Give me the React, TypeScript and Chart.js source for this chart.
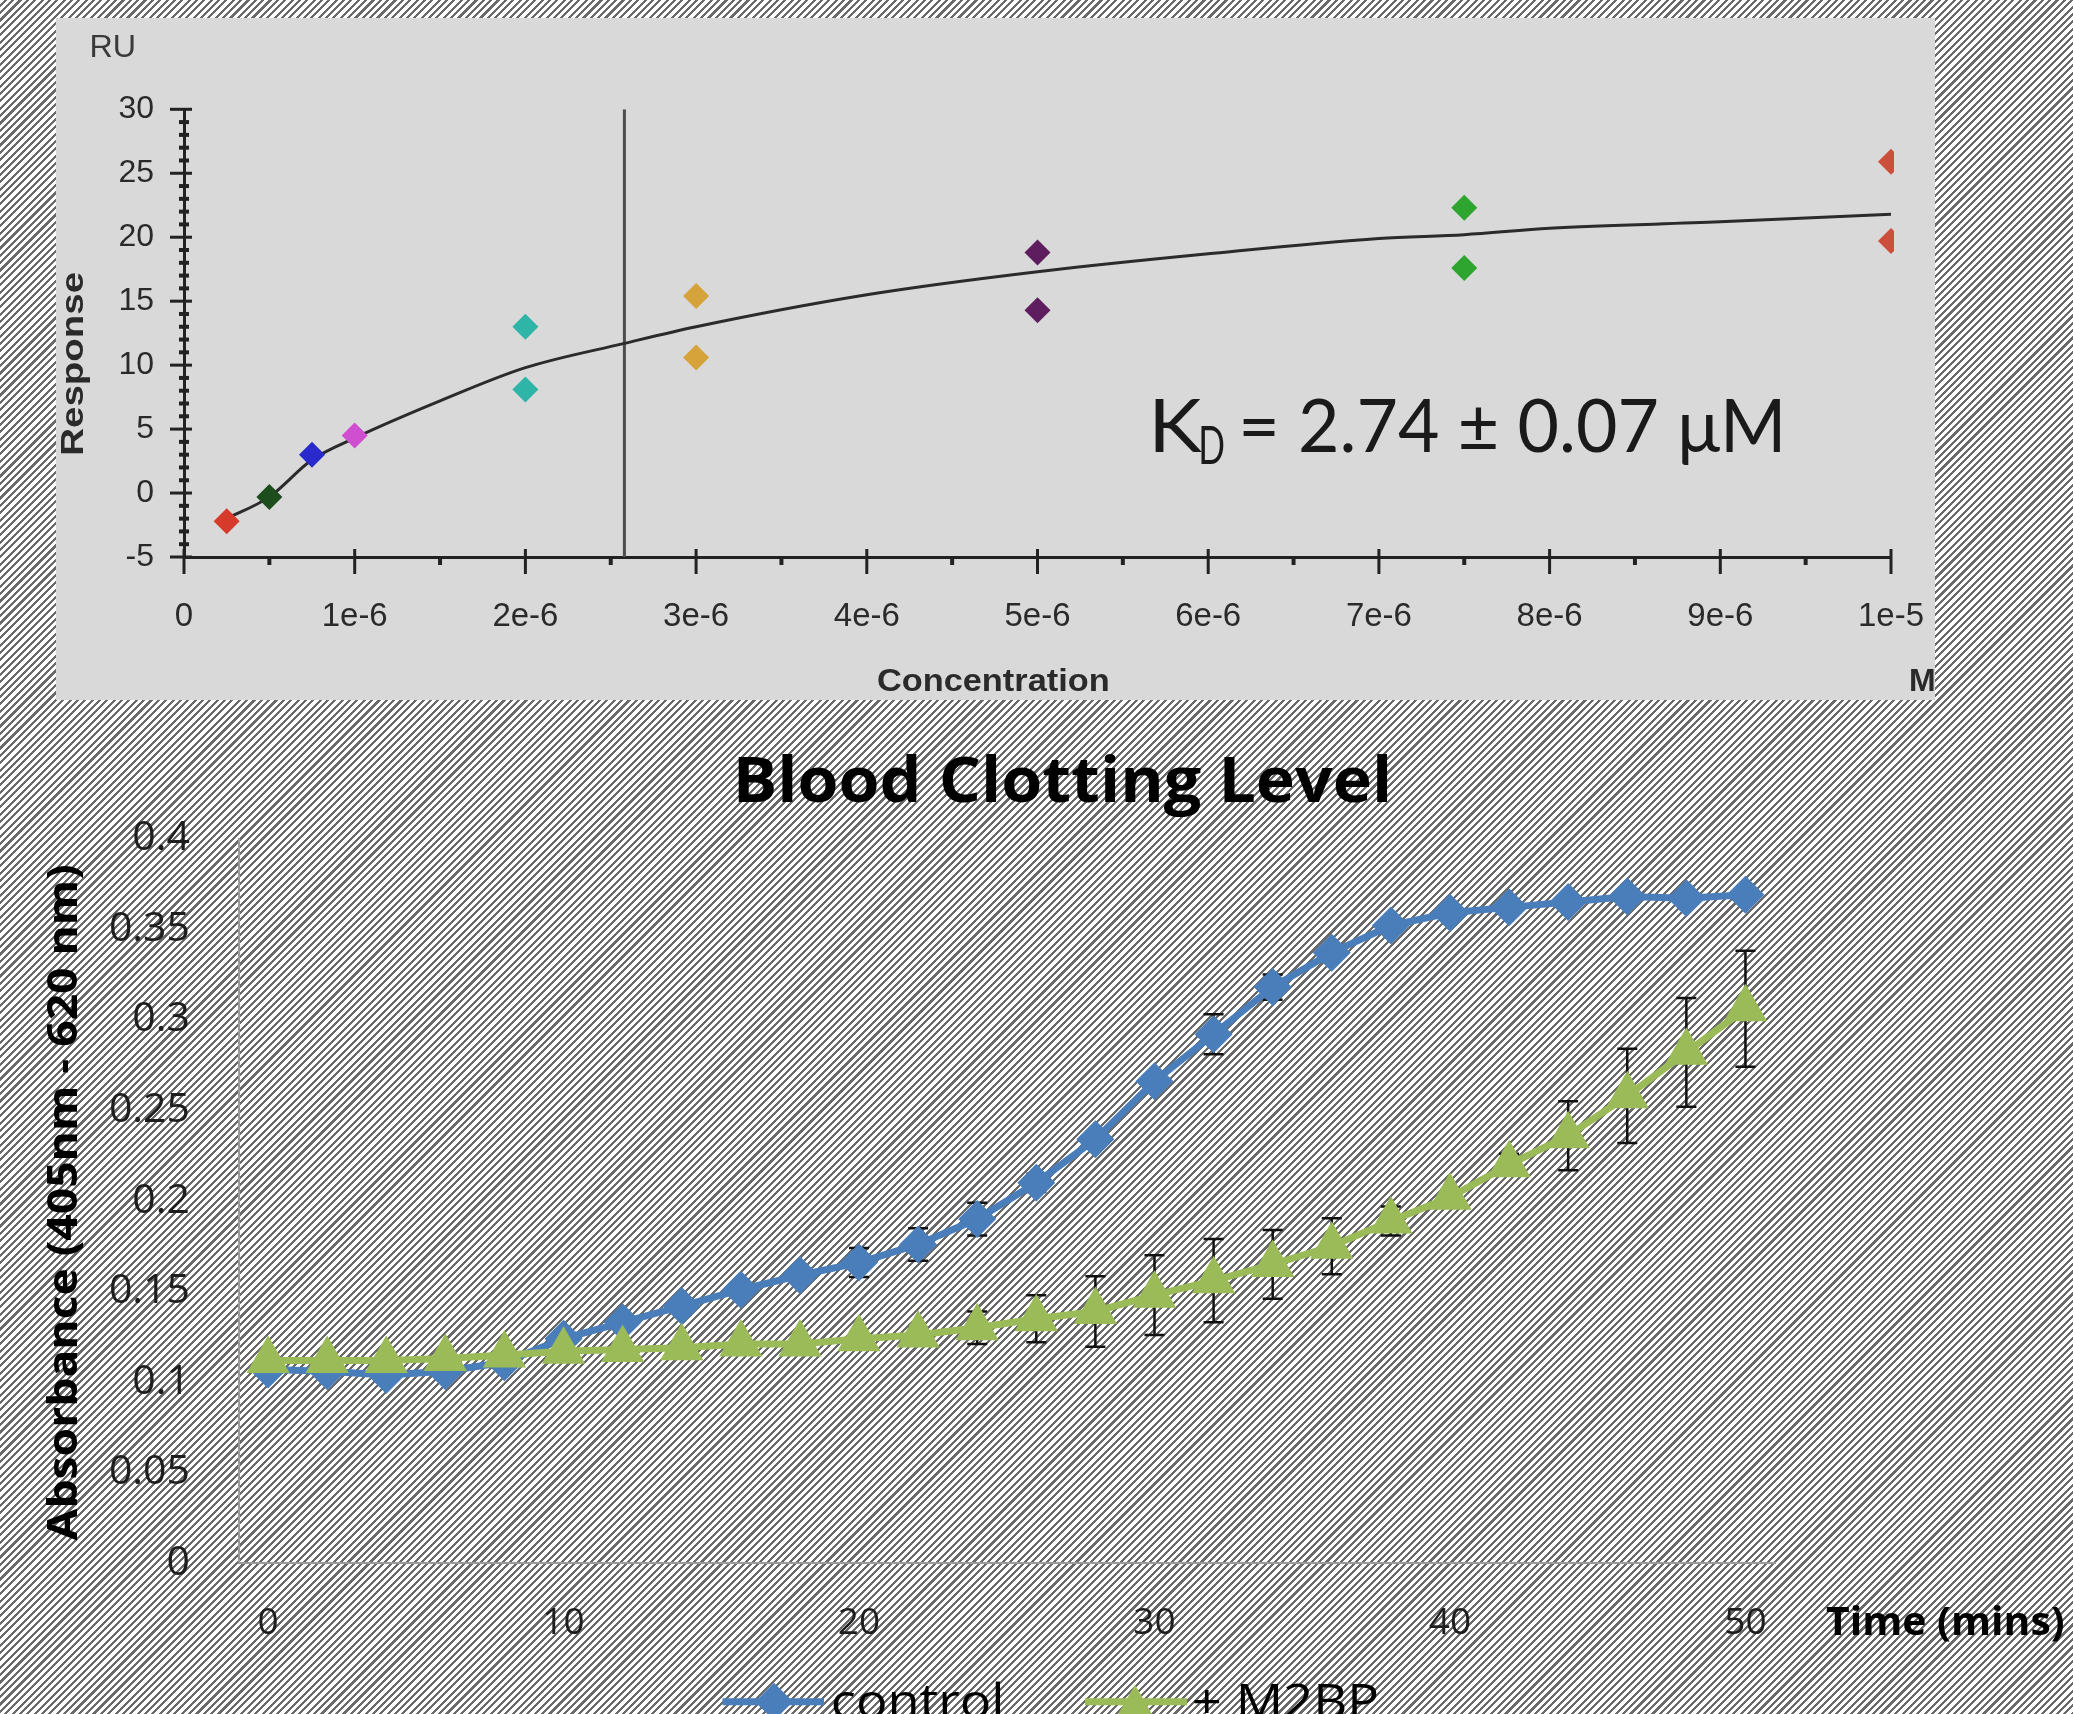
import React, { useEffect, useRef } from 'react';
import { Chart, registerables } from 'chart.js';

Chart.register(...registerables);

// ---------------- Top chart: binding response vs concentration ----------------
const concentrations = [2.5e-7, 5e-7, 7.5e-7, 1e-6, 2e-6, 3e-6, 5e-6, 7.5e-6, 1e-5];
const responseHigh = [-2.2, -0.3, 3.0, 4.5, 13.0, 15.4, 18.8, 22.3, 25.9];
const responseLow: (number | null)[] = [null, null, null, null, 8.1, 10.6, 14.3, 17.6, 19.7];
const pointColors = ['#d63a2a', '#1d4d1d', '#2a2acc', '#d04ed0', '#2fb5a8', '#d6a23a', '#5e1d5e', '#2ea52e', '#cc4f3c'];
const fitConc = [2.5e-7, 5e-7, 7.5e-7, 1e-6, 1.5e-6, 2e-6, 2.58e-6, 3e-6, 4e-6, 5e-6, 6e-6, 7e-6, 7.5e-6, 8e-6, 9e-6, 1e-5];
const fitResponse = [-2.0, -0.3, 2.6, 4.3, 7.2, 9.8, 11.7, 13.0, 15.5, 17.3, 18.7, 19.9, 20.2, 20.7, 21.2, 21.8];
const kdMarkerConc = 2.58e-6;
const topXMin = 0;
const topXMax = 1e-5;
const topXStep = 1e-6;
const topYMin = -5;
const topYMax = 30;
const topYStep = 5;
const topYMinorStep = 1;

// ---------------- Bottom chart: blood clotting level ----------------
const times = [0, 2, 4, 6, 8, 10, 12, 14, 16, 18, 20, 22, 24, 26, 28, 30, 32, 34, 36, 38, 40, 42, 44, 46, 48, 50];
const control = [0.107, 0.106, 0.104, 0.106, 0.111, 0.124, 0.133, 0.142, 0.151, 0.159, 0.166, 0.176, 0.190, 0.210, 0.234, 0.266, 0.292, 0.318, 0.337, 0.352, 0.359, 0.362, 0.365, 0.368, 0.367, 0.369];
const controlErr = [0, 0, 0, 0, 0, 0, 0, 0, 0, 0.002, 0.008, 0.009, 0.009, 0.005, 0.004, 0.003, 0.011, 0.007, 0.003, 0.002, 0.002, 0.003, 0.003, 0.002, 0.002, 0.002];
const m2bp = [0.112, 0.112, 0.112, 0.113, 0.115, 0.117, 0.118, 0.119, 0.121, 0.121, 0.124, 0.126, 0.130, 0.135, 0.139, 0.148, 0.156, 0.165, 0.175, 0.189, 0.202, 0.220, 0.236, 0.258, 0.282, 0.306];
const m2bpErr = [0, 0, 0, 0, 0, 0, 0, 0, 0, 0, 0.003, 0.004, 0.009, 0.013, 0.0195, 0.022, 0.023, 0.019, 0.0155, 0.008, 0.004, 0.006, 0.019, 0.026, 0.03, 0.032];
const shownTimeLabels = [0, 10, 20, 30, 40, 50];
const absMin = 0;
const absMax = 0.4;
const absStep = 0.05;

const BLUE = '#4a7ebb';
const GREEN = '#9bbb59';

function fitText(
  ctx: CanvasRenderingContext2D,
  text: string,
  x: number,
  y: number,
  width: number | null,
  font: string,
  color: string,
  align: 'left' | 'center' | 'right' = 'left'
) {
  ctx.save();
  ctx.font = font;
  ctx.fillStyle = color;
  ctx.textAlign = 'left';
  ctx.textBaseline = 'alphabetic';
  const m = ctx.measureText(text);
  const inkW = m.actualBoundingBoxLeft + m.actualBoundingBoxRight;
  const s = width ? width / inkW : 1;
  ctx.translate(x, y);
  ctx.scale(s, 1);
  let ox = m.actualBoundingBoxLeft;
  if (align === 'center') ox -= inkW / 2;
  else if (align === 'right') ox -= inkW;
  ctx.fillText(text, ox, 0);
  ctx.restore();
}

const topDecorPlugin = {
  id: 'topDecor',
  afterDatasetsDraw(chart: any) {
    const { ctx, chartArea, scales } = chart;
    const xs = scales.x;
    const ys = scales.y;
    const left = chartArea.left;
    const bottom = chartArea.bottom;
    ctx.save();
    ctx.strokeStyle = '#222';
    ctx.lineCap = 'butt';
    ctx.lineWidth = 3;
    ys.ticks.forEach((t: any) => {
      const py = ys.getPixelForValue(t.value);
      ctx.beginPath();
      ctx.moveTo(left - 14, py);
      ctx.lineTo(left + 8, py);
      ctx.stroke();
    });
    xs.ticks.forEach((t: any) => {
      const px = xs.getPixelForValue(t.value);
      ctx.beginPath();
      ctx.moveTo(px, bottom - 8);
      ctx.lineTo(px, bottom + 17);
      ctx.stroke();
    });
    ctx.lineWidth = 4;
    for (let v = topYMin; v <= topYMax + 1e-9; v += topYMinorStep) {
      if (Math.abs(v % topYStep) < 1e-9) continue;
      const py = ys.getPixelForValue(v);
      ctx.beginPath();
      ctx.moveTo(left - 5, py);
      ctx.lineTo(left + 5, py);
      ctx.stroke();
    }
    for (let v = topXMin + topXStep / 2; v < topXMax; v += topXStep) {
      const px = xs.getPixelForValue(v);
      ctx.beginPath();
      ctx.moveTo(px, bottom + 2);
      ctx.lineTo(px, bottom + 8);
      ctx.stroke();
    }
    ctx.restore();
  },
  afterDraw(chart: any) {
    const ctx: CanvasRenderingContext2D = chart.ctx;
    fitText(ctx, 'RU', 35.5, 39.4, 42, '31px "Liberation Sans"', '#3a3a3a');
    ctx.save();
    ctx.translate(27, 344.7);
    ctx.rotate(-Math.PI / 2);
    fitText(ctx, 'Response', 0, 0, 181, 'bold 31px "Liberation Sans"', '#2a2a2a', 'center');
    ctx.restore();
    fitText(ctx, 'Concentration', 937, 673, 230, 'bold 32px "Liberation Sans"', '#2a2a2a', 'center');
    fitText(ctx, 'M', 1855, 673, null, 'bold 32px "Liberation Sans"', '#2a2a2a');
    fitText(ctx, 'K', 1098.7, 433.7, 48, '74px Lato', '#1a1a1a');
    fitText(ctx, 'D', 1145, 446, 23, '52px Lato', '#1a1a1a');
    fitText(ctx, '= 2.74 ± 0.07 μM', 1187, 433.7, 537, '74px Lato', '#1a1a1a');
  },
};

const bottomDecorPlugin = {
  id: 'bottomDecor',
  beforeDatasetsDraw(chart: any) {
    const { ctx, scales } = chart;
    const xs = scales.x;
    const ys = scales.y;
    ctx.save();
    ctx.strokeStyle = '#111';
    ctx.lineWidth = 2.5;
    const series: [number[], number[]][] = [
      [control, controlErr],
      [m2bp, m2bpErr],
    ];
    series.forEach(([vals, errs]) => {
      vals.forEach((v, i) => {
        const e = errs[i];
        if (!e) return;
        const px = xs.getPixelForValue(i);
        const top = ys.getPixelForValue(v + e);
        const bot = ys.getPixelForValue(v - e);
        ctx.beginPath();
        ctx.moveTo(px, top);
        ctx.lineTo(px, bot);
        ctx.moveTo(px - 10, top);
        ctx.lineTo(px + 10, top);
        ctx.moveTo(px - 10, bot);
        ctx.lineTo(px + 10, bot);
        ctx.stroke();
      });
    });
    ctx.restore();
  },
  afterDraw(chart: any) {
    const ctx: CanvasRenderingContext2D = chart.ctx;
    fitText(ctx, 'Blood Clotting Level', 1063, 82.4, 650, 'bold 62px "Open Sans"', '#000', 'center');
    ctx.save();
    ctx.translate(77, 483);
    ctx.rotate(-Math.PI / 2);
    fitText(ctx, 'Absorbance (405nm - 620 nm)', 0, 0, 675, 'bold 42px "Open Sans"', '#000', 'center');
    ctx.restore();
    fitText(ctx, 'Time (mins)', 1826, 915, 237, 'bold 40px "Open Sans"', '#000');

    const ly = 981.7;
    ctx.save();
    ctx.lineWidth = 7;
    ctx.strokeStyle = BLUE;
    ctx.beginPath();
    ctx.moveTo(722.5, ly);
    ctx.lineTo(824, ly);
    ctx.stroke();
    ctx.fillStyle = BLUE;
    ctx.beginPath();
    ctx.moveTo(774 - 19, ly);
    ctx.lineTo(774, ly - 19);
    ctx.lineTo(774 + 19, ly);
    ctx.lineTo(774, ly + 19);
    ctx.closePath();
    ctx.fill();
    ctx.strokeStyle = GREEN;
    ctx.beginPath();
    ctx.moveTo(1085, ly);
    ctx.lineTo(1187, ly);
    ctx.stroke();
    ctx.fillStyle = GREEN;
    ctx.beginPath();
    ctx.moveTo(1135, ly - 17);
    ctx.lineTo(1135 + 22, ly + 21);
    ctx.lineTo(1135 - 22, ly + 21);
    ctx.closePath();
    ctx.fill();
    ctx.restore();
    fitText(ctx, 'control', 833, 998, 168, '48px "Open Sans"', '#000');
    fitText(ctx, '+ M2BP', 1194, 998, 183, '48px "Open Sans"', '#000');
  },
};

export default function App() {
  const topRef = useRef<HTMLCanvasElement>(null);
  const botRef = useRef<HTMLCanvasElement>(null);

  useEffect(() => {
    const scatterSets = concentrations.map((c, i) => {
      const pts: { x: number; y: number }[] = [{ x: c, y: responseHigh[i] }];
      const lo = responseLow[i];
      if (lo !== null) pts.push({ x: c, y: lo });
      return {
        type: 'scatter' as const,
        data: pts,
        pointStyle: 'rectRot',
        pointRadius: 13,
        pointBorderWidth: 0,
        backgroundColor: pointColors[i],
        borderColor: pointColors[i],
        showLine: false,
        clip: { left: 50, top: 50, right: 3, bottom: 50 },
        order: 0,
      };
    });

    const topChart = new Chart(topRef.current!, {
      type: 'scatter',
      data: {
        datasets: [
          {
            data: fitConc.map((c, i) => ({ x: c, y: fitResponse[i] })),
            showLine: true,
            borderColor: '#2b2b2b',
            borderWidth: 3,
            pointRadius: 0,
            cubicInterpolationMode: 'monotone',
            clip: false,
            order: 2,
          } as any,
          {
            data: [
              { x: kdMarkerConc, y: topYMin },
              { x: kdMarkerConc, y: topYMax },
            ],
            showLine: true,
            borderColor: '#4d4d4d',
            borderWidth: 3,
            pointRadius: 0,
            order: 3,
          } as any,
          ...(scatterSets as any[]),
        ],
      },
      options: {
        animation: false,
        responsive: false,
        devicePixelRatio: 1,
        events: [],
        layout: { autoPadding: false, padding: { top: 91.3, right: 44, left: 0, bottom: 0 } },
        plugins: { legend: { display: false }, tooltip: { enabled: false } },
        scales: {
          x: {
            type: 'linear',
            min: topXMin,
            max: topXMax,
            ticks: {
              stepSize: topXStep,
              autoSkip: false,
              maxRotation: 0,
              padding: 40,
              color: '#2a2a2a',
              font: { family: '"Liberation Sans"', size: 33 },
              callback: (v: any) => (Number(v) === 0 ? '0' : Number(v).toExponential(0)),
            },
            grid: { display: false, drawTicks: false },
            border: { display: true, color: '#222', width: 3 },
            afterFit: (s: any) => {
              s.height = 143;
              s.paddingLeft = 0;
              s.paddingRight = 0;
            },
          },
          y: {
            type: 'linear',
            min: topYMin,
            max: topYMax,
            ticks: {
              stepSize: topYStep,
              padding: 30,
              color: '#2a2a2a',
              font: { family: '"Liberation Sans"', size: 32 },
            },
            grid: { display: false, drawTicks: false },
            border: { display: true, color: '#222', width: 3 },
            afterFit: (s: any) => {
              s.width = 128;
              s.paddingTop = 0;
              s.paddingBottom = 0;
            },
          },
        },
      } as any,
      plugins: [topDecorPlugin as any],
    });

    const botChart = new Chart(botRef.current!, {
      type: 'line',
      data: {
        labels: times.map(String),
        datasets: [
          {
            label: '+ M2BP',
            data: m2bp,
            borderColor: GREEN,
            backgroundColor: GREEN,
            borderWidth: 7,
            pointStyle: 'triangle',
            pointRadius: 25,
            pointBorderWidth: 0,
            tension: 0,
            clip: false,
            order: 0,
          } as any,
          {
            label: 'control',
            data: control,
            borderColor: BLUE,
            backgroundColor: BLUE,
            borderWidth: 7,
            pointStyle: 'rectRot',
            pointRadius: 19,
            pointBorderWidth: 0,
            tension: 0,
            clip: false,
            order: 1,
          } as any,
        ],
      },
      options: {
        animation: false,
        responsive: false,
        devicePixelRatio: 1,
        events: [],
        layout: { autoPadding: false, padding: { top: 118.5, right: 298, left: 0, bottom: 0 } },
        plugins: { legend: { display: false }, tooltip: { enabled: false } },
        scales: {
          x: {
            type: 'category',
            offset: true,
            ticks: {
              autoSkip: false,
              maxRotation: 0,
              padding: 38,
              color: '#1e1e1e',
              font: { family: '"Open Sans"', size: 37 },
              callback: (_v: any, idx: number) =>
                shownTimeLabels.includes(times[idx]) ? String(times[idx]) : '',
            },
            grid: { display: false, drawTicks: false },
            border: { display: true, color: '#9a9a9a', width: 2 },
            afterFit: (s: any) => {
              s.height = 150.6;
              s.paddingLeft = 0;
              s.paddingRight = 0;
            },
          },
          y: {
            type: 'linear',
            min: absMin,
            max: absMax,
            ticks: {
              stepSize: absStep,
              padding: 48.5,
              color: '#1e1e1e',
              font: { family: '"Open Sans"', size: 41 },
              callback: (v: any) => String(Number(Number(v).toFixed(2))),
            },
            grid: { display: false, drawTicks: false },
            border: { display: true, color: '#9a9a9a', width: 2 },
            afterFit: (s: any) => {
              s.width = 238.5;
              s.paddingTop = 0;
              s.paddingBottom = 0;
            },
          },
        },
      } as any,
      plugins: [bottomDecorPlugin as any],
    });

    let alive = true;
    if ((document as any).fonts && (document as any).fonts.ready) {
      (document as any).fonts.ready.then(() => {
        if (!alive) return;
        topChart.update();
        botChart.update();
      });
    }

    return () => {
      alive = false;
      topChart.destroy();
      botChart.destroy();
    };
  }, []);

  return (
    <div
      style={{
        position: 'absolute',
        left: 0,
        top: 0,
        width: 2073,
        height: 1714,
        overflow: 'hidden',
        background:
          'repeating-linear-gradient(135deg, #ffffff 0px, #ffffff 3px, #6a6a6a 3px, #6a6a6a 5.2px)',
      }}
    >
      <canvas
        ref={topRef}
        width={1879}
        height={682}
        style={{ position: 'absolute', left: 56, top: 18, width: 1879, height: 682, background: '#d9d9d9' }}
      />
      <canvas
        ref={botRef}
        width={2073}
        height={994}
        style={{ position: 'absolute', left: 0, top: 720, width: 2073, height: 994 }}
      />
    </div>
  );
}
